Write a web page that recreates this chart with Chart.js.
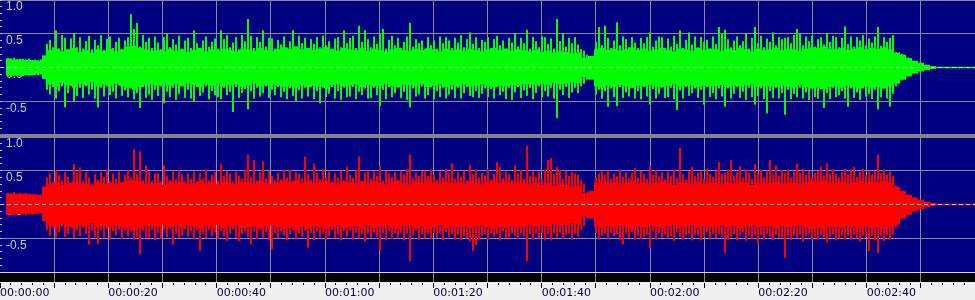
<!DOCTYPE html>
<html>
<head>
<meta charset="utf-8">
<script src="https://cdn.jsdelivr.net/npm/chart.js@4/dist/chart.umd.min.js"></script>
<style>
  html, body { margin: 0; padding: 0; background: #f0f0f0; }
  #wrap { position: relative; width: 975px; height: 300px; overflow: hidden; }
  canvas { position: absolute; left: 0; }
  #left { top: 0; }
  #right { top: 137px; }
  #sep { position: absolute; left: 0; top: 134px; width: 975px; height: 4px; background: #878787; z-index: 2; }
</style>
</head>
<body>
<div id="wrap">
  <canvas id="left" width="975" height="135"></canvas>
  <canvas id="right" width="975" height="163"></canvas>
  <div id="sep"></div>
</div>
<script>
// waveform envelopes, in hundredths of full scale
// peaks: one column every 0.554 s, solid core: one column every 1.108 s
const PEAK_T0 = 1.476923, PEAK_DT = 0.5538462;
const CORE_T0 = 1.661538, CORE_DT = 1.1076923;

const GREEN_PEAK_HI = [
  14,13,14,12,13,13,12,13,11,12, 11,12,14,35,41,30,55,27,48,44,
  26,43,51,30,45,28,39,47,27,41, 33,48,26,42,46,29,38,44,27,40,
  45,79,57,66,31,48,38,44,29,46, 37,27,45,50,30,42,34,47,28,40,
  44,29,55,36,27,40,46,31,38,43, 28,55,42,48,30,37,45,27,48,39,
  72,47,29,45,38,55,31,44,43,28, 41,34,46,29,39,55,31,47,36,44,
  28,42,35,45,30,47,33,39,28,43, 45,30,55,36,44,47,29,62,38,55,
  42,30,46,35,50,57,28,41,47,33, 44,29,38,46,66,31,42,36,40,28,
  45,33,40,28,46,36,45,40,29,44, 37,48,30,42,52,35,45,29,41,38,
  45,29,42,47,33,40,28,44,37,50, 31,44,36,56,28,45,39,30,46,45,
  35,43,28,72,39,50,31,44,36,45, 34,27,25,19,16,15,38,60,33,62,
  44,29,40,67,33,46,42,30,45,37, 29,44,36,45,52,31,40,46,45,28,
  43,31,47,35,55,29,41,52,34,46, 30,45,38,41,28,46,35,60,50,56,
  42,30,40,46,33,39,50,28,44,60, 36,47,30,43,38,52,33,45,42,44,
  45,36,48,57,50,33,46,39,47,31, 42,45,34,50,38,47,45,30,44,61,
  35,46,31,45,40,48,33,43,37,46, 60,32,45,38,44,48,23,22,20,18,
  15,13,10,8,7,5,4,3,2,1, 1,1,1,1,1,1,1,1,1,1,1,1,1
];
const GREEN_PEAK_LO = [
  -13,-14,-12,-13,-12,-13,-11,-12,-12,-11, -11,-10,-12,-33,-40,-29,-46,-35,-28,-59,
  -38,-27,-50,-42,-30,-45,-28,-40,-33,-46, -59,-30,-43,-28,-41,-36,-46,-27,-42,-34,
  -44,-31,-47,-38,-60,-29,-45,-40,-48,-33, -42,-28,-53,-36,-44,-30,-48,-39,-27,-45,
  -33,-46,-50,-29,-42,-37,-28,-47,-35,-41, -44,-47,-30,-41,-36,-66,-29,-45,-38,-32,
  -62,-35,-46,-30,-43,-38,-28,-45,-33,-41, -29,-44,-36,-47,-31,-42,-50,-34,-46,-30,
  -43,-28,-47,-35,-53,-30,-44,-39,-29,-46, -35,-48,-30,-44,-43,-29,-47,-36,-41,-31,
  -46,-45,-30,-41,-57,-33,-47,-29,-44,-38, -30,-45,-36,-48,-59,-31,-43,-40,-28,-46,
  -41,-29,-47,-35,-44,-30,-46,-40,-33,-45, -30,-46,-38,-29,-42,-44,-35,-45,-39,-31,
  -44,-32,-46,-28,-41,-36,-47,-30,-48,-37, -29,-45,-34,-42,-30,-47,-38,-28,-44,-35,
  -43,-30,-46,-75,-33,-41,-29,-45,-37,-30, -38,-28,-24,-18,-15,-16,-40,-33,-46,-35,
  -58,-31,-44,-57,-29,-45,-37,-43,-30,-46, -35,-47,-29,-43,-55,-32,-46,-39,-30,-45,
  -44,-30,-47,-63,-34,-46,-29,-42,-38,-31, -45,-33,-55,-29,-44,-38,-47,-31,-43,-58,
  -31,-46,-39,-29,-45,-36,-48,-30,-44,-55, -42,-31,-47,-68,-35,-45,-30,-46,-38,-70,
  -33,-47,-39,-44,-30,-46,-37,-48,-31,-44, -46,-32,-60,-38,-47,-30,-44,-41,-35,-46,
  -58,-31,-45,-37,-48,-30,-43,-39,-47,-33, -62,-44,-31,-46,-58,-39,-28,-22,-19,-16,
  -13,-11,-9,-7,-6,-5,-4,-3,-2,-1, -1,-1,-1,-1,-1,-1,-1,-1,-1,-1,-1,-1,-1
];
const GREEN_CORE_HI = [
  13,12,12,11,11,10, 18,
  26,28,24,27,29,23,26,22,27,25, 28,24,27,31,32,29,27,25,26,24,
  28,25,27,23,26,29,24,27,25,28, 26,24,28,27,25,29,26,24,27,30,
  28,31,27,29,26,28,30,27,25,29, 27,26,29,25,28,26,24,27,29,26,
  25,28,26,29,27,24,28,26,27,25, 28,26,24,27,29,26,28,25,27,26,
  24,26,23,25,22,24,23,21,22, 14,17,
  27,29,26,28,25,27,30,26,28,25, 27,29,26,24,28,27,25,29,26,28,
  27,25,28,26,29,27,24,28,26,27, 29,26,28,27,25,28,30,29,31,28,
  27,29,26,28,30,27,29,28,30,27, 22,19,14,10,7,4,2,1, 1,1,1,1,1,1
];
const GREEN_CORE_LO = [
  -12,-12,-12,-11,-11,-10, -17,
  -25,-28,-23,-27,-30,-24,-26,-22,-28,-25, -27,-24,-28,-30,-33,-29,-26,-25,-27,-24,
  -27,-25,-28,-24,-26,-29,-25,-27,-24,-28, -26,-25,-29,-27,-24,-28,-26,-25,-27,-29,
  -28,-30,-26,-29,-27,-28,-31,-26,-25,-28, -27,-25,-29,-26,-28,-27,-24,-28,-29,-26,
  -26,-28,-25,-29,-27,-25,-29,-26,-28,-25, -28,-27,-25,-28,-29,-27,-28,-26,-27,-25,
  -25,-26,-24,-26,-23,-25,-24,-22,-23, -14,-18,
  -28,-30,-27,-29,-26,-28,-30,-27,-28,-26, -28,-29,-27,-25,-28,-27,-26,-29,-27,-28,
  -27,-26,-29,-27,-28,-26,-25,-29,-27,-28, -29,-27,-28,-30,-26,-29,-31,-30,-32,-29,
  -28,-30,-27,-29,-31,-28,-30,-29,-31,-28, -24,-18,-13,-9,-6,-4,-2,-1, -1,-1,-1,-1,-1,-1
];

const RED_PEAK_HI = [
  17,16,18,16,17,15,17,16,15,16, 14,13,27,40,46,33,51,44,36,48,
  41,32,60,47,55,35,48,40,31,45, 37,48,41,52,34,46,38,49,33,44,
  51,40,82,45,79,36,58,48,35,46, 47,34,58,42,36,49,38,51,45,33,
  46,38,49,34,47,39,52,36,44,48, 35,60,43,50,46,34,48,43,38,51,
  74,41,66,35,48,64,39,50,42,36, 47,37,51,40,51,35,48,45,38,71,
  45,36,61,47,38,52,41,49,34,46, 40,50,36,56,44,39,51,71,35,47,
  51,38,49,43,56,35,50,46,41,48, 37,49,45,52,74,39,47,42,50,49,
  42,52,44,37,49,40,53,46,61,38, 48,41,50,36,59,45,52,40,47,43,
  52,37,45,63,56,39,49,45,36,58, 46,51,38,87,43,50,41,48,37,52,
  66,69,45,56,51,38,50,42,48,46, 44,36,31,18,16,17,40,46,49,44,
  51,38,46,42,52,41,48,39,47,54, 40,50,45,38,56,44,51,41,48,37,
  49,42,52,39,84,45,37,50,56,42, 47,49,38,53,45,41,50,63,45,47,
  52,66,43,48,57,40,51,47,38,60, 46,52,40,49,66,45,58,42,51,47,
  52,40,49,61,47,53,44,50,41,47, 50,56,43,61,46,52,45,40,48,53,
  44,52,56,41,48,53,43,50,45,49, 74,46,52,44,49,42,28,24,20,17,
  15,13,11,9,7,6,4,3,2,1, 1,1,1,1,1,1,1,1,1,1,1,1,1
];
const RED_PEAK_LO = [
  -15,-16,-15,-16,-14,-15,-16,-14,-15,-14, -14,-13,-25,-38,-46,-34,-49,-41,-33,-48,
  -44,-34,-50,-38,-47,-35,-44,-59,-39,-48, -59,-38,-49,-36,-52,-40,-46,-37,-51,-39,
  -47,-40,-52,-48,-74,-38,-49,-50,-38,-53, -42,-51,-38,-48,-36,-59,-43,-50,-46,-37,
  -48,-40,-52,-38,-69,-43,-50,-38,-47,-41, -51,-39,-47,-54,-43,-37,-50,-54,-44,-40,
  -48,-59,-40,-51,-38,-49,-41,-53,-67,-42, -50,-40,-46,-53,-44,-38,-51,-43,-48,-39,
  -64,-42,-53,-40,-49,-43,-52,-46,-38,-50, -45,-53,-40,-48,-39,-52,-42,-50,-44,-55,
  -43,-50,-41,-48,-68,-42,-53,-40,-51,-43, -49,-42,-53,-43,-84,-46,-39,-52,-44,-50,
  -44,-51,-42,-49,-43,-53,-41,-48,-44,-52, -45,-53,-47,-50,-55,-69,-60,-52,-46,-44,
  -52,-43,-48,-44,-53,-40,-50,-49,-43,-46, -51,-42,-47,-84,-44,-52,-43,-50,-42,-53,
  -44,-53,-43,-49,-42,-51,-45,-43,-52,-44, -48,-38,-32,-20,-17,-18,-42,-52,-46,-43,
  -51,-42,-47,-44,-53,-59,-43,-50,-41,-52, -46,-51,-48,-45,-64,-40,-52,-42,-49,-45,
  -50,-47,-54,-41,-48,-52,-46,-44,-53,-45, -46,-53,-48,-41,-52,-43,-50,-44,-48,-72,
  -52,-48,-44,-53,-46,-41,-54,-45,-51,-46, -59,-45,-52,-44,-48,-53,-45,-50,-49,-79,
  -47,-53,-46,-50,-45,-55,-47,-43,-52,-48, -52,-45,-49,-56,-48,-44,-53,-50,-46,-52,
  -46,-52,-45,-50,-55,-46,-48,-69,-47,-53, -72,-47,-54,-46,-52,-45,-34,-22,-20,-17,
  -16,-13,-11,-9,-7,-6,-4,-3,-2,-1, -1,-1,-1,-1,-1,-1,-1,-1,-1,-1,-1,-1,-1
];
const RED_CORE_HI = [
  16,16,16,15,15,14, 26,
  30,33,29,32,34,30,31,28,33,31, 32,30,33,35,36,34,31,30,32,29,
  33,31,34,30,32,35,31,33,30,34, 32,30,34,33,31,35,32,30,33,35,
  34,36,32,35,31,33,35,32,30,34, 33,31,35,30,34,32,30,33,35,31,
  30,34,32,35,33,30,34,32,33,31, 34,32,30,33,35,32,34,31,33,32,
  30,32,29,31,28,30,29,27,28, 16,20,
  32,34,31,33,30,32,35,31,33,30, 32,34,31,29,33,32,30,34,31,33,
  32,30,33,31,34,32,29,33,31,32, 34,31,33,32,30,33,35,34,36,33,
  32,34,31,33,35,32,34,33,35,32, 26,20,14,10,7,4,2,1, 1,1,1,1,1,1
];
const RED_CORE_LO = [
  -15,-15,-14,-14,-14,-13, -24,
  -31,-34,-29,-33,-35,-30,-32,-28,-34,-31, -33,-30,-34,-36,-37,-35,-32,-30,-33,-30,
  -34,-31,-35,-30,-33,-36,-31,-34,-30,-35, -33,-31,-35,-34,-32,-36,-33,-31,-34,-36,
  -35,-37,-33,-36,-32,-34,-36,-33,-31,-35, -34,-32,-36,-31,-35,-33,-31,-34,-36,-32,
  -31,-35,-33,-36,-34,-31,-35,-33,-34,-32, -35,-33,-31,-34,-36,-33,-35,-32,-34,-33,
  -31,-33,-30,-32,-29,-31,-30,-28,-29, -17,-21,
  -33,-35,-32,-34,-31,-33,-36,-32,-34,-31, -33,-35,-32,-30,-34,-33,-31,-35,-32,-34,
  -33,-31,-34,-32,-35,-33,-30,-34,-32,-33, -35,-32,-34,-33,-31,-34,-36,-35,-37,-34,
  -33,-35,-32,-34,-36,-33,-35,-34,-36,-33, -30,-21,-15,-10,-7,-4,-2,-1, -1,-1,-1,-1,-1,-1
];

const Y_TICKS = [1, 0.5, 0, -0.5];
const Y_LABELS = ['1.0', '0.5', '0.0', '-0.5'];
const TIME_TICKS = [0, 20, 40, 60, 80, 100, 120, 140, 160];
const TIME_LABELS = ['00:00:00', '00:00:20', '00:00:40', '00:01:00', '00:01:20',
  '00:01:40', '00:02:00', '00:02:20', '00:02:40'];

const NAVY = '#000080';
const GRID = '#8c8c8c';
const LABEL = '#c8c8c8';

function envelope(hi, lo, t0, dt) {
  return hi.map((h, i) => ({ x: t0 + i * dt, y: [lo[i] / 100, h / 100] }));
}

const panel = {
  id: 'panel',
  beforeDraw(chart) {
    const { ctx, chartArea: a } = chart;
    ctx.save();
    ctx.fillStyle = NAVY;
    ctx.fillRect(a.left, a.top, a.right - a.left, a.bottom - a.top);
    ctx.restore();
  },
  afterDatasetsDraw(chart) {
    const { ctx, chartArea: a } = chart;
    const y = chart.scales.y;
    const zero = Math.floor(y.getPixelForValue(0)) + 0.5;
    ctx.save();
    ctx.strokeStyle = LABEL;
    ctx.lineWidth = 1;
    ctx.setLineDash([4, 3]);
    ctx.beginPath();
    ctx.moveTo(a.left, zero);
    ctx.lineTo(a.right, zero);
    ctx.stroke();
    // little marks on the left edge every 0.1
    ctx.fillStyle = LABEL;
    for (let v = -10; v <= 10; v++) {
      ctx.fillRect(0, Math.floor(y.getPixelForValue(v / 10)), 2, 1);
    }
    ctx.restore();
  }
};

const timeAxis = {
  id: 'timeAxis',
  beforeDraw(chart) {
    const { ctx, chartArea: a } = chart;
    ctx.save();
    ctx.fillStyle = '#f0f0f0';
    ctx.fillRect(0, a.bottom, chart.width, chart.height - a.bottom);
    ctx.fillStyle = '#000000';
    ctx.fillRect(0, a.bottom + 1, chart.width, 9);
    ctx.restore();
  },
  afterDraw(chart) {
    const { ctx, chartArea: a } = chart;
    const x = chart.scales.x;
    ctx.save();
    ctx.fillStyle = '#d8d8d8';
    ctx.fillRect(0, a.bottom, chart.width, 1);
    ctx.fillStyle = '#000000';
    for (let s = 0; s <= 180; s += 2) {
      const px = Math.round(x.getPixelForValue(s) - 0.5);
      ctx.fillRect(px, a.bottom + 11, 1, s % 10 === 0 ? 5 : 2);
    }
    ctx.restore();
  }
};

function noPad(s) {
  s.paddingTop = 0; s.paddingBottom = 0; s.paddingLeft = 0; s.paddingRight = 0;
}

function makeChart(id, ch, color, withTime) {
  return new Chart(document.getElementById(id), {
    type: 'bar',
    data: {
      datasets: [{
        data: envelope(ch.coreHi, ch.coreLo, CORE_T0, CORE_DT),
        backgroundColor: color,
        borderWidth: 0,
        barThickness: 6,
        inflateAmount: 0
      }, {
        data: envelope(ch.peakHi, ch.peakLo, PEAK_T0, PEAK_DT),
        backgroundColor: color,
        borderWidth: 0,
        barThickness: 2,
        inflateAmount: 0
      }]
    },
    options: {
      responsive: false,
      animation: false,
      devicePixelRatio: 1,
      events: [],
      grouped: false,
      layout: { padding: 0 },
      plugins: { legend: { display: false }, tooltip: { enabled: false } },
      scales: {
        x: {
          type: 'linear',
          min: 0,
          max: 180,
          offset: false,
          border: { display: false },
          grid: {
            offset: false,
            color: c => (c.tick.value % 180 === 0 ? 'transparent' : GRID),
            drawTicks: withTime,
            tickLength: 10
          },
          ticks: {
            display: withTime,
            stepSize: 10,
            autoSkip: false,
            maxRotation: 0,
            align: 'start',
            padding: 5,
            color: '#000040',
            font: { family: 'DejaVu Sans', size: 11 },
            callback: v => {
              const i = TIME_TICKS.indexOf(v);
              return i >= 0 ? TIME_LABELS[i] : '';
            }
          },
          afterFit: s => { s.height = withTime ? 28 : 0; noPad(s); }
        },
        y: {
          min: -1,
          max: 1,
          border: { display: false },
          grid: {
            color: c => (Math.abs(c.tick.value) < 1e-9 ? 'transparent' : GRID),
            drawTicks: false
          },
          ticks: {
            stepSize: 0.5,
            mirror: true,
            padding: 6,
            labelOffset: 7,
            autoSkip: false,
            color: LABEL,
            font: { family: 'Liberation Sans', size: 12 },
            callback: v => {
              const i = Y_TICKS.findIndex(t => Math.abs(t - v) < 1e-9);
              return i >= 0 ? Y_LABELS[i] : '';
            }
          },
          afterFit: s => { s.width = 0; noPad(s); }
        }
      }
    },
    plugins: withTime ? [panel, timeAxis] : [panel]
  });
}

makeChart('left', {
  peakHi: GREEN_PEAK_HI, peakLo: GREEN_PEAK_LO, coreHi: GREEN_CORE_HI, coreLo: GREEN_CORE_LO
}, '#00ff00', false);
makeChart('right', {
  peakHi: RED_PEAK_HI, peakLo: RED_PEAK_LO, coreHi: RED_CORE_HI, coreLo: RED_CORE_LO
}, '#ff0000', true);
</script>
</body>
</html>
